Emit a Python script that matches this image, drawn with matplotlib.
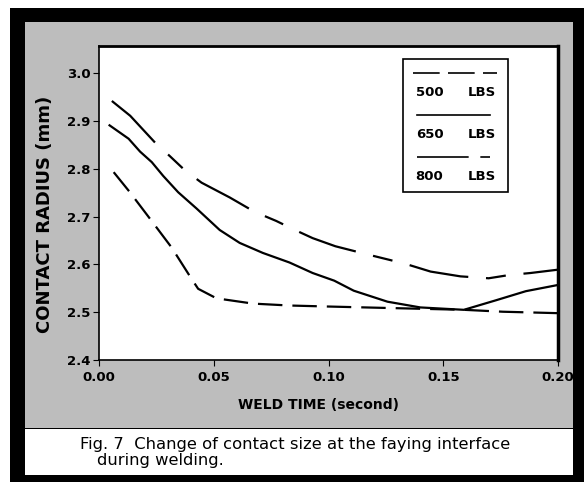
import matplotlib
matplotlib.use("Agg")
import matplotlib.pyplot as plt
from matplotlib.patches import Rectangle
from matplotlib.lines import Line2D

# weld time (s) and contact radius (mm)
t_500 = [0.0056, 0.0136, 0.0244, 0.031, 0.0374, 0.0447, 0.057, 0.0678, 0.0772, 0.0845,
         0.0931, 0.103, 0.1177, 0.127, 0.135, 0.1445, 0.1575, 0.1698, 0.179, 0.188, 0.2]
r_500 = [2.942, 2.911, 2.855, 2.826, 2.797, 2.771, 2.740, 2.710, 2.691, 2.674,
         2.655, 2.638, 2.620, 2.609, 2.599, 2.585, 2.575, 2.571, 2.578, 2.582, 2.589]

t_650 = [0.0046, 0.0129, 0.0179, 0.023, 0.028, 0.0345, 0.0425, 0.0526, 0.0613, 0.0714,
         0.083, 0.0931, 0.1025, 0.111, 0.1257, 0.140, 0.159, 0.173, 0.186, 0.2]
r_650 = [2.891, 2.863, 2.836, 2.814, 2.785, 2.751, 2.717, 2.672, 2.645, 2.624,
         2.604, 2.582, 2.566, 2.545, 2.522, 2.510, 2.505, 2.525, 2.544, 2.557]

t_800 = [0.0064, 0.0133, 0.0223, 0.0317, 0.0403, 0.0432, 0.0512, 0.0671, 0.083, 0.0989,
         0.133, 0.159, 0.176, 0.2]
r_800 = [2.793, 2.752, 2.695, 2.635, 2.570, 2.549, 2.529, 2.518, 2.514, 2.512,
         2.508, 2.505, 2.501, 2.498]

x_ticks = [0.0, 0.05, 0.10, 0.15, 0.20]
x_labels = ["0.00", "0.05", "0.10", "0.15", "0.20"]
y_ticks = [2.4, 2.5, 2.6, 2.7, 2.8, 2.9, 3.0]

W, H = 584, 482


def px(x, y, w, h):
    # pixel box (top-left origin) -> figure fraction rect
    return (x / W, 1 - (y + h) / H, w / W, h / H)


fig = plt.figure(figsize=(W / 100, H / 100), dpi=100)
fig.patch.set_facecolor("white")

# black frame, stippled panel, white caption strip
for (x, y, w, h), col in [((10, 8, 574, 474), "black"),
                          ((25, 22, 548, 406), "#bdbdbd"),
                          ((25, 429, 548, 46), "white")]:
    l, b, ww, hh = px(x, y, w, h)
    fig.add_artist(Rectangle((l, b), ww, hh, transform=fig.transFigure,
                             facecolor=col, edgecolor="none", zorder=0))

ax = fig.add_axes(px(99, 46, 459, 314))
ax.set_facecolor("white")

lw = 1.6
ax.plot(t_500, r_500, color="black", lw=lw, dashes=(27, 8, 9, 8))
ax.plot(t_650, r_650, color="black", lw=lw)
ax.plot(t_800, r_800, color="black", lw=lw, dashes=(11, 4.5))

ax.set_xlim(0, 0.2)
ax.set_ylim(2.4, 3.057)
ax.set_xticks(x_ticks)
ax.set_xticklabels(x_labels, fontsize=9.5, fontweight="bold")
ax.set_yticks(y_ticks)
ax.set_yticklabels(["%.1f" % v for v in y_ticks], fontsize=9.5, fontweight="bold")
ax.tick_params(axis="x", direction="out", length=4, pad=4)
ax.tick_params(axis="y", direction="out", length=4, pad=2)
for s in ax.spines.values():
    s.set_linewidth(1.2)
ax.spines["right"].set_linewidth(2.5)
ax.spines["top"].set_linewidth(2)

ax.set_xlabel("WELD TIME (second)", fontsize=10, fontweight="bold")
ax.xaxis.label.set_va("center")
ax.xaxis.set_label_coords((318 - 99) / 459, -(405 - 360) / 314)
ax.set_ylabel("CONTACT RADIUS (mm)", fontsize=13, fontweight="bold")
ax.yaxis.label.set_va("center")
ax.yaxis.set_label_coords((45 - 99) / 459, 1 - (214 - 46) / 314)

# hand-made legend: line above each label, dash patterns as in the key
ax.add_patch(Rectangle((0.662, 0.534), 0.2295, 0.424, transform=ax.transAxes,
                       facecolor="white", edgecolor="black", lw=1.2, zorder=5))
styles = [dict(dashes=(16, 5)), dict(), dict(dashes=(31, 7))]
spans = [(0.685, 0.868), (0.692, 0.852), (0.692, 0.852)]
names = ["500", "650", "800"]
for i, (st, sp, nm) in enumerate(zip(styles, spans, names)):
    ly = 0.913 - i * 0.134
    ax.add_line(Line2D(list(sp), [ly, ly], transform=ax.transAxes,
                       color="black", lw=1.2, zorder=6, **st))
    ax.text(0.69, ly - 0.06, nm, transform=ax.transAxes, fontsize=9.5,
            fontweight="bold", va="center", zorder=6)
    ax.text(0.803, ly - 0.06, "LBS", transform=ax.transAxes, fontsize=9.5,
            fontweight="bold", va="center", zorder=6)

fig.text(80 / W, 1 - 445 / H, "Fig. 7  Change of contact size at the faying interface",
         fontsize=11.8, family="DejaVu Sans", va="center")
fig.text(97 / W, 1 - 461 / H, "during welding.",
         fontsize=11.8, family="DejaVu Sans", va="center")

fig.savefig("out.png", dpi=100)
